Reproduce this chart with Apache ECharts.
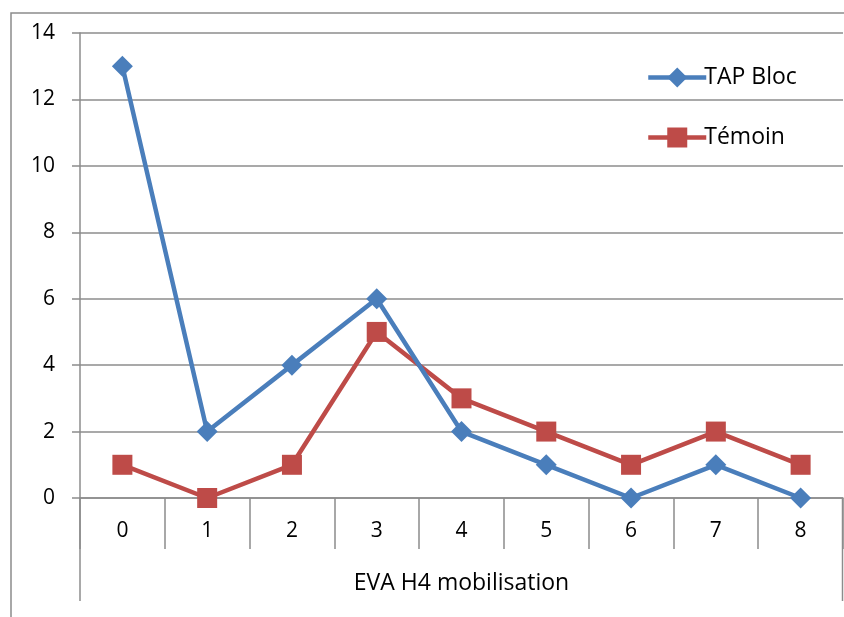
<!DOCTYPE html>
<html>
<head>
<meta charset="utf-8">
<script src="https://cdn.jsdelivr.net/npm/echarts@6/dist/echarts.min.js"></script>
<style>
  html, body { margin: 0; padding: 0; background: #fff; }
  #chart { width: 844px; height: 617px; }
</style>
</head>
<body>
<div id="chart"></div>
<script>
// categories (EVA score) and counts per group
const categories = ['0', '1', '2', '3', '4', '5', '6', '7', '8'];
const tapBloc = [13, 2, 4, 6, 2, 1, 0, 1, 0];
const temoin = [1, 0, 1, 5, 3, 2, 1, 2, 1];

const FONT = '"Open Sans", sans-serif';
const GRID_COLOR = '#8c8c8c';

let myChart = echarts.init(document.getElementById('chart'), null, { renderer: 'canvas' });

let option = {
	backgroundColor: '#fff',
	animation: false,
	grid: { left: 80, right: 1, top: 33, bottom: 119, containLabel: false },
	legend: {
		orient: 'vertical',
		left: 641,
		top: 61,
		itemWidth: 58,
		itemHeight: 25,
		itemGap: 37,
		lineStyle: { width: 4.5 },
		textStyle: { fontFamily: FONT, fontSize: 23, color: '#000', padding: [0, 0, 0, -7] },
		data: ['TAP Bloc', 'Témoin']
	},
	xAxis: {
		type: 'category',
		data: categories,
		boundaryGap: true,
		name: 'EVA H4 mobilisation',
		nameLocation: 'middle',
		nameGap: 85,
		nameTextStyle: { fontFamily: FONT, fontSize: 23, color: '#000', verticalAlign: 'middle' },
		axisLine: { show: true, lineStyle: { color: GRID_COLOR, width: 1.5 } },
		axisTick: { show: true, length: 51, interval: 0, lineStyle: { color: GRID_COLOR, width: 1.5 } },
		axisLabel: { fontFamily: FONT, fontSize: 21, color: '#000', margin: 23, interval: 0 }
	},
	yAxis: {
		type: 'value',
		min: 0,
		max: 14,
		interval: 2,
		axisLine: { show: true, lineStyle: { color: GRID_COLOR, width: 1.5 } },
		axisTick: { show: true, length: 8, lineStyle: { color: GRID_COLOR, width: 1.5 } },
		axisLabel: { fontFamily: FONT, fontSize: 21, color: '#000', margin: 25 },
		splitLine: { show: true, lineStyle: { color: GRID_COLOR, width: 1.5 } }
	},
	series: [
		{
			name: 'TAP Bloc',
			type: 'line',
			data: tapBloc,
			symbol: 'diamond',
			symbolSize: 21,
			lineStyle: { color: '#4a7ebb', width: 4.5 },
			itemStyle: { color: '#4a7ebb' },
			z: 3
		},
		{
			name: 'Témoin',
			type: 'line',
			data: temoin,
			symbol: 'rect',
			symbolSize: 20,
			lineStyle: { color: '#be4b48', width: 4.5 },
			itemStyle: { color: '#be4b48' },
			z: 2
		}
	],
	graphic: [
		// outer chart frame (runs off the right and bottom edges)
		{
			type: 'rect',
			shape: { x: 11, y: 13, width: 900, height: 700 },
			style: { fill: null, stroke: GRID_COLOR, lineWidth: 1.5 },
			silent: true
		},
		// axis title box sides
		{
			type: 'line',
			shape: { x1: 80, y1: 498, x2: 80, y2: 601 },
			style: { stroke: GRID_COLOR, lineWidth: 1.5 },
			silent: true
		},
		{
			type: 'line',
			shape: { x1: 842.5, y1: 498, x2: 842.5, y2: 601 },
			style: { stroke: GRID_COLOR, lineWidth: 1.5 },
			silent: true
		}
	]
};

myChart.setOption(option);
</script>
</body>
</html>
